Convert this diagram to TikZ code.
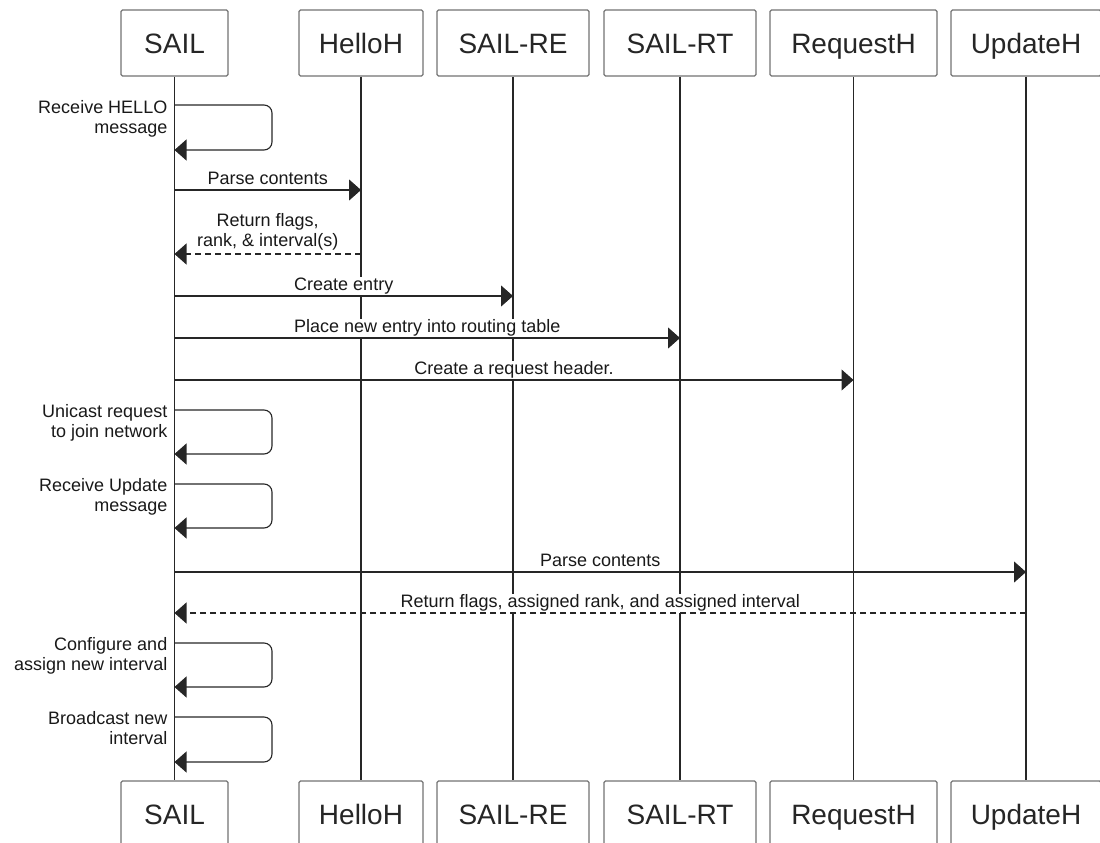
\documentclass[tikz,border=0pt]{standalone}
\usepackage{fontspec}
\setmainfont{Liberation Sans}
\usetikzlibrary{arrows.meta,calc}

\begin{document}
\begin{tikzpicture}[x=1pt,y=-1pt,
  actor/.style={draw=black!55, line width=1.2pt, rounded corners=1.5pt, fill=white,
    minimum height=66pt, inner sep=0pt, text height=20pt, text depth=0pt,
    font=\fontsize{28}{30}\selectfont, text=black!85},
  life/.style={draw=black!85, line width=1.1pt},
  msg/.style={draw=black!85, line width=1.1pt, -{Triangle[length=12pt,width=21pt]}},
  reply/.style={msg, dash pattern=on 6pt off 4pt},
  selfmsg/.style={msg, rounded corners=8pt},
  lbl/.style={fill=white, inner xsep=2pt, inner ysep=0pt, anchor=south,
    font=\fontsize{18}{20}\selectfont, text=black!90, text height=14pt, text depth=5pt},
  lbltwo/.style={fill=white, inner xsep=2pt, inner ysep=4pt, anchor=south, align=center,
    font=\fontsize{18}{20}\selectfont, text=black!90},
  note/.style={inner sep=0pt, align=right, anchor=north east,
    font=\fontsize{18}{20}\selectfont, text=black!90},
]
\useasboundingbox (0,0) rectangle (1100,843);

% participants, top row
\node[actor, minimum width=107pt] (sailT)  at (174.5,43) {SAIL};
\node[actor, minimum width=124pt] (helloT) at (361,43)   {HelloH};
\node[actor, minimum width=152pt] (reT)    at (513,43)   {SAIL-RE};
\node[actor, minimum width=152pt] (rtT)    at (680,43)   {SAIL-RT};
\node[actor, minimum width=167pt] (reqT)   at (853.5,43) {RequestH};
\node[actor, minimum width=150pt] (updT)   at (1026,43)  {UpdateH};

% participants, bottom row
\node[actor, minimum width=107pt] (sailB)  at (174.5,814) {SAIL};
\node[actor, minimum width=124pt] (helloB) at (361,814)   {HelloH};
\node[actor, minimum width=152pt] (reB)    at (513,814)   {SAIL-RE};
\node[actor, minimum width=152pt] (rtB)    at (680,814)   {SAIL-RT};
\node[actor, minimum width=167pt] (reqB)   at (853.5,814) {RequestH};
\node[actor, minimum width=150pt] (updB)   at (1026,814)  {UpdateH};

% lifelines
\draw[life] (sailT.south)  -- (sailB.north);
\draw[life] (helloT.south) -- (helloB.north);
\draw[life] (reT.south)    -- (reB.north);
\draw[life] (rtT.south)    -- (rtB.north);
\draw[life] (reqT.south)   -- (reqB.north);
\draw[life] (updT.south)   -- (updB.north);

% message rows
\coordinate (r2)  at (0,190);
\coordinate (r3)  at (0,254);
\coordinate (r4)  at (0,296);
\coordinate (r5)  at (0,338);
\coordinate (r6)  at (0,380);
\coordinate (r9)  at (0,572);
\coordinate (r10) at (0,613);

% self-call anchors on the SAIL lifeline
\coordinate (s1a) at (174.5,105); \coordinate (s1b) at (174.5,150);
\coordinate (s2a) at (174.5,410); \coordinate (s2b) at (174.5,454);
\coordinate (s3a) at (174.5,484); \coordinate (s3b) at (174.5,528);
\coordinate (s4a) at (174.5,643); \coordinate (s4b) at (174.5,687);
\coordinate (s5a) at (174.5,717); \coordinate (s5b) at (174.5,762);

% message labels
\node[lbl] (l2) at ($(sailT |- r2)!0.5!(helloT |- r2)$) {Parse contents};
\node[lbltwo] (l3) at ($(sailT |- r3)!0.5!(helloT |- r3)$) {Return flags,\\rank, \& interval(s)};
\node[lbl] (l4) at ($(sailT |- r4)!0.5!(reT |- r4)$) {Create entry};
\node[lbl] (l5) at ($(sailT |- r5)!0.5!(rtT |- r5)$) {Place new entry into routing table};
\node[lbl] (l6) at ($(sailT |- r6)!0.5!(reqT |- r6)$) {Create a request header.};
\node[lbl] (l9) at ($(sailT |- r9)!0.5!(updT |- r9)$) {Parse contents};
\node[lbl] (l10) at ($(sailT |- r10)!0.5!(updT |- r10)$) {Return flags, assigned rank, and assigned interval};

% self-call labels
\node[note] (n1) at ([shift={(-7,-5)}]s1a) {Receive HELLO\\message};
\node[note] (n2) at ([shift={(-7,-6)}]s2a) {Unicast request\\to join network};
\node[note] (n3) at ([shift={(-7,-6)}]s3a) {Receive Update\\message};
\node[note] (n4) at ([shift={(-7,-6)}]s4a) {Configure and\\assign new interval};
\node[note] (n5) at ([shift={(-7,-6)}]s5a) {Broadcast new\\interval};

% messages
\draw[selfmsg] (s1a) -- ++(97.5,0) -- ++(0,45) -- (s1b);
\draw[msg]   (sailT |- r2) -- (helloT |- r2);
\draw[reply] (helloT |- r3) -- (sailT |- r3);
\draw[msg]   (sailT |- r4) -- (reT |- r4);
\draw[msg]   (sailT |- r5) -- (rtT |- r5);
\draw[msg]   (sailT |- r6) -- (reqT |- r6);
\draw[selfmsg] (s2a) -- ++(97.5,0) -- ++(0,44) -- (s2b);
\draw[selfmsg] (s3a) -- ++(97.5,0) -- ++(0,44) -- (s3b);
\draw[msg]   (sailT |- r9) -- (updT |- r9);
\draw[reply] (updT |- r10) -- (sailT |- r10);
\draw[selfmsg] (s4a) -- ++(97.5,0) -- ++(0,44) -- (s4b);
\draw[selfmsg] (s5a) -- ++(97.5,0) -- ++(0,45) -- (s5b);
\end{tikzpicture}
\end{document}
